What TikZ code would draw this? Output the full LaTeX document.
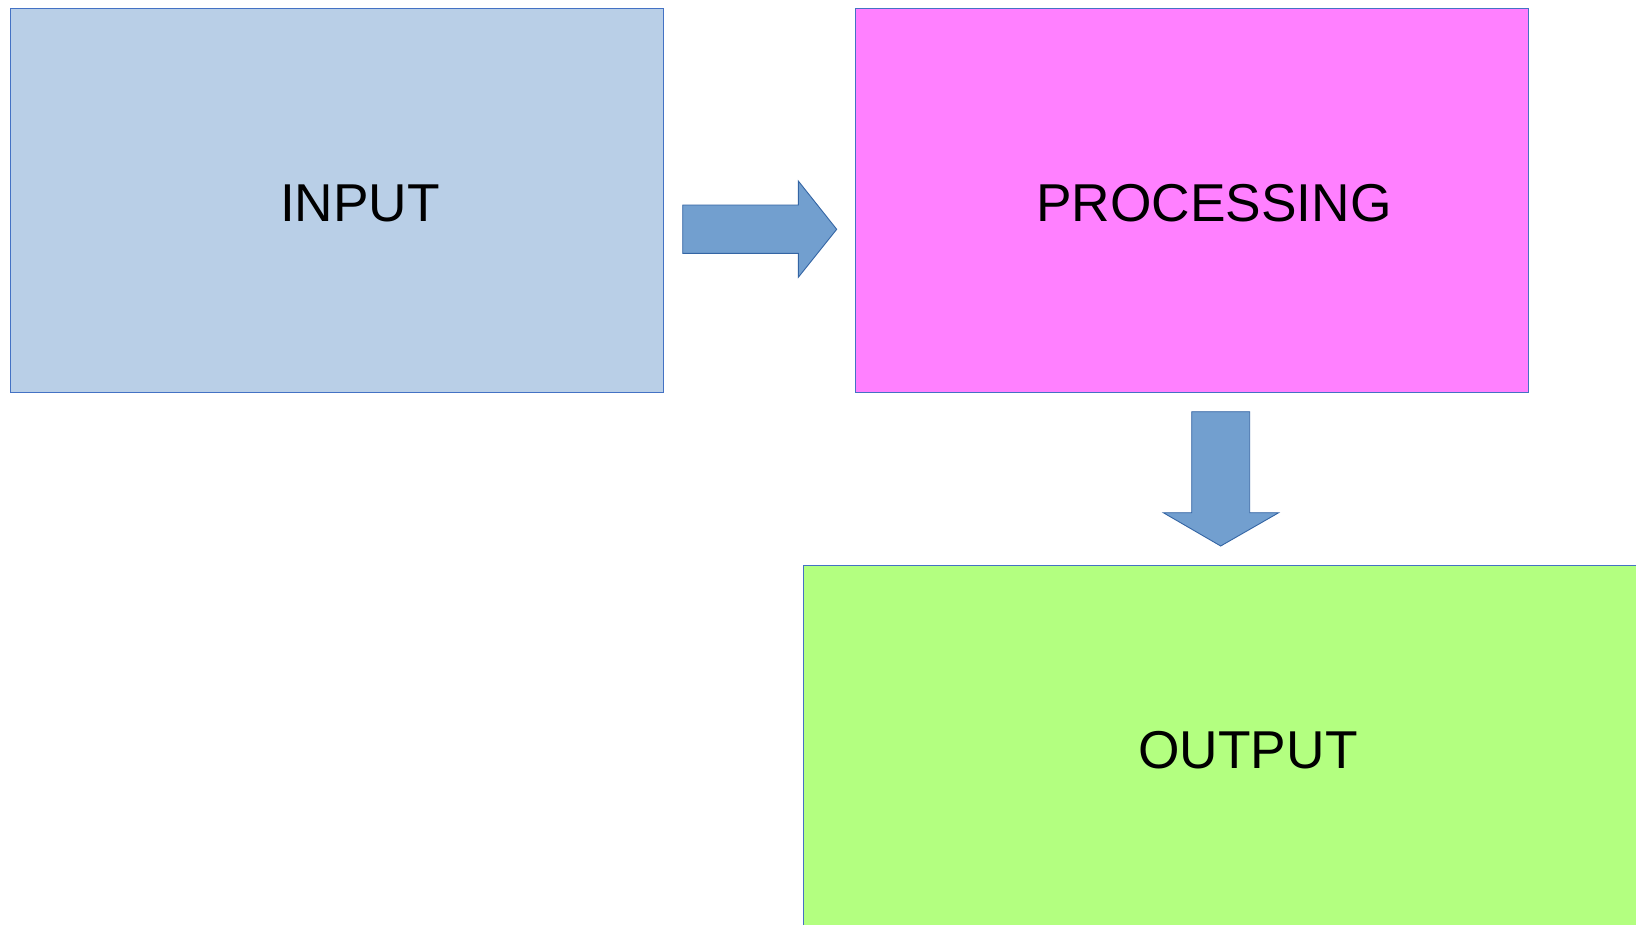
\documentclass[tikz,border=0pt]{standalone}
\usepackage{fontspec}
\setmainfont{Liberation Sans}
\definecolor{inputfill}{HTML}{B9CFE7}
\definecolor{procfill}{HTML}{FF80FF}
\definecolor{outfill}{HTML}{B3FF80}
\definecolor{boxline}{HTML}{4472C4}
\definecolor{arrowfill}{HTML}{729FCF}
\definecolor{arrowline}{HTML}{3465A4}
\begin{document}
\begin{tikzpicture}[x=1bp,y=-1bp,
  blockbox/.style={draw=boxline, line width=0.9bp},
  blocklabel/.style={font=\fontsize{53.3bp}{60bp}\selectfont, text=black, inner sep=0pt},
  blockarrow/.style={draw=arrowline, fill=arrowfill, line width=0.9bp, line join=miter}]
\clip (0,0) rectangle (1636,924);
\useasboundingbox (0,0) rectangle (1636,924);
\fill[white] (0,0) rectangle (1636,924);
% boxes
\draw[blockbox, fill=inputfill] (10.5,8.5) rectangle (663.5,392.5);
\draw[blockbox, fill=procfill] (855.5,8.5) rectangle (1528.5,392.5);
\draw[blockbox, fill=outfill] (803,565.5) rectangle (1700,1000);
% labels
\node[blocklabel] (input) at (360,203) {INPUT};
\node[blocklabel] (proc) at (1214,203) {PROCESSING};
\node[blocklabel] (output) at (1248,750) {OUTPUT};
% right arrow
\draw[blockarrow] (682.7,205) -- (798.3,205) -- (798.3,181) -- (836.7,229.3)
  -- (798.3,277.3) -- (798.3,253.3) -- (682.7,253.3) -- cycle;
% down arrow
\draw[blockarrow] (1191.7,411.7) -- (1249.7,411.7) -- (1249.7,512.7) -- (1278.7,512.7)
  -- (1220.7,546) -- (1163.3,512.7) -- (1191.7,512.7) -- cycle;
\end{tikzpicture}
\end{document}
